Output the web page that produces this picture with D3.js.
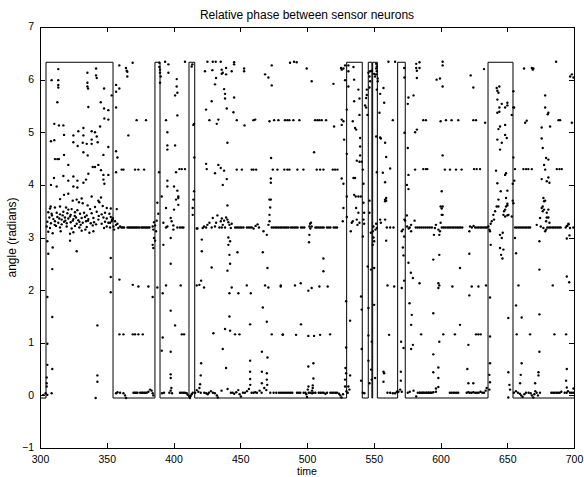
<!DOCTYPE html>
<html>
<head>
<meta charset="utf-8">
<script src="https://cdn.jsdelivr.net/npm/d3@7"></script>
<style>
  body { margin: 0; background: #fff; }
  text { font-family: "Liberation Sans", Arial, Helvetica, sans-serif; fill: #000; }
</style>
</head>
<body>
<svg id="chart" width="584" height="477"></svg>
<script>
// Axis ticks
const xTicks = [300, 350, 400, 450, 500, 550, 600, 650, 700];
const yTicks = [-1, 0, 1, 2, 3, 4, 5, 6, 7];

// Switching times of the synchrony window (alternates low / high)
const windowEdges = [304.5, 354.7, 386.1, 389.9, 411.6, 415.9, 529.7, 541.4,
                     545.9, 548.6, 549.2, 552.7, 567.9, 573.6, 635.6, 654.3];
const windowLow = -0.05;
const windowHigh = 6.33;

// Relative phase samples [time, angle]
const phase300 = [
  [313.7,6.20],[308.7,5.99],[313.7,5.99],[313.7,5.90],[313.7,5.85],[335.5,6.13],[342,6.21],[342,6.08],[342.5,6.03],
  [335.5,5.94],[335.5,5.87],[336,5.83],[348,5.83],[313,5.57],[336.2,5.48],[345.5,5.57],[348,5.45],[351.2,5.42],
  [348.2,5.26],[351.2,5.24],[310.7,5.16],[314.2,5.13],[317.5,5.13],[332.5,5.08],[328.7,5.02],[332.5,4.94],[325,4.94],
  [338.7,5.02],[341.2,5.00],[345,5.11],[342.5,4.92],[318,4.95],[308.2,4.83],[310.7,4.85],[325,4.81],[328.2,4.74],
  [332,4.80],[335,4.78],[338.7,4.78],[338.7,4.86],[343.2,4.81],[351.2,4.72],[332.5,4.62],[335.7,4.56],[318,4.57],
  [347.5,4.57],[311.2,4.49],[313,4.49],[314.2,4.49],[321.2,4.38],[339.5,4.34],[341.2,4.34],[343.7,4.38],[345.7,4.28],
  [310.5,4.13],[317.5,4.17],[325,4.16],[321.2,4.08],[328,4.08],[336.2,4.21],[334.5,4.10],[332.5,4.04],[308.2,4.00],
  [312.5,3.97],[325,3.97],[328,3.95],[347.5,4.10],[348.2,4.02],[351.2,4.19],[347.5,4.19],[318,3.81],[321.2,3.83],
  [315,3.73],[324.5,3.70],[327.5,3.72],[331.2,3.74],[329.2,3.67],[332,3.65],[338.7,3.78],[343.7,3.70],[345.7,3.76],
  [344.5,3.67],[335.7,3.61],[308,3.59],[311.2,3.57],[315,3.59],[321.2,3.53],[323.7,3.54],[347,3.60],[350,3.56],
  [307.5,3.55],[319.5,3.57],[328,3.52],[337.5,3.54],[341.2,3.58],[353,3.55],
  [306.2,3.48],[308.7,3.45],[312.5,3.47],[315,3.44],[317.5,3.49],[320.5,3.46],[323,3.43],[326.2,3.48],[330,3.45],
  [333,3.47],[335,3.42],[338.7,3.46],[342.5,3.49],[346.2,3.44],[348.7,3.47],[352,3.45],
  [307,3.38],[310,3.35],[313,3.39],[314.5,3.36],[316.2,3.34],[318.7,3.38],[321.2,3.36],[322.5,3.40],[325,3.35],
  [327,3.38],[328.7,3.33],[331.2,3.37],[333.7,3.39],[336.2,3.35],[340,3.37],[343.7,3.34],[347.5,3.38],[350,3.36],
  [353,3.39],[354.5,3.34],
  [305.5,3.30],[308.2,3.27],[311.2,3.31],[313.7,3.28],[316.2,3.25],[318,3.30],[320,3.27],[323,3.29],[324.5,3.32],
  [327.5,3.26],[329.5,3.30],[332,3.28],[334.5,3.31],[338,3.27],[340.5,3.29],[346.2,3.26],[348.7,3.30],[351.2,3.28],
  [353.7,3.31],
  [305,3.21],[307.5,3.18],[312,3.22],[315,3.19],[320,3.21],[323.7,3.17],[326.2,3.22],[329.5,3.19],[335,3.20],
  [339.5,3.23],[348,3.18],[350,3.21],[352.5,3.19],
  [306.2,3.11],[309.5,3.08],[315.5,3.12],[322.5,3.07],[325,3.10],[331.2,3.13],[337,3.09],[340,3.12],
  [317,3.42],[319,3.32],[326,3.41],[330.5,3.24],[336,3.32],[344,3.41],[309,3.42],[342,3.25],[334,3.15],[311,3.24],
  [305.5,2.93],[309.5,2.81],[327.5,2.74],[322.5,2.94],[306.2,2.69],[309.2,2.40],[305.5,1.87],[309.2,1.49],
  [305.5,0.98],[305.5,0.58],[309.2,0.50],[305,0.34],[305,0.23],[305,0.17],[304.2,0.04],[308.7,0.04],[305.5,0.01],
  [302.5,0.01],[343,1.33],[343,0.38],[343,0.26],[341.7,-0.05],[353,2.61],[353,2.25],[353,1.96],[353.7,5.70]
];

const phase356 = [
  [357.5,3.54],[352.5,3.28],[355,3.21],[356.2,3.31],[357,3.24],[358,3.26],[358.7,3.18],[360,3.21],[355.5,3.15],
  [354,3.34],[354.5,3.37],
  [361,3.19],[362,3.19],[363,3.19],[365.5,3.19],[366.5,3.19],[367.5,3.19],[368.5,3.19],[369.5,3.19],[370.5,3.19],
  [371.5,3.19],[372.5,3.19],[373.5,3.19],[374.5,3.19],[376,3.19],[377,3.19],[378,3.19],[379,3.19],[380,3.19],
  [381,3.19],[382,3.19],
  [359.4,6.27],[364.4,6.22],[364.9,6.17],[365.4,6.15],[365.4,6.06],[369.4,6.32],[357,5.90],[357,5.77],[359.4,5.83],
  [357,5.47],[372.4,5.23],[379.4,5.23],[366.2,4.94],[357,4.64],[358,4.52],[361.2,4.29],[362.5,4.29],[371.2,4.29],
  [373.7,4.29],[378,4.29],[357,4.24],
  [359.5,2.20],[369.5,2.10],[373.7,2.07],[381.2,2.07],[359.5,1.16],[362.5,1.16],[369.5,1.16],[371.2,1.16],
  [373.7,1.16],[377,1.16],
  [360,0.05],[362.5,0.04],[363.7,0.0],[364.5,-0.05],[370,0.05],[371,0.05],[372,0.05],[373,0.05],[375,0.05],
  [376,0.05],[377,0.05],[378,0.05],[379,0.05],[380,0.05],[381.2,0.07],[382.5,0.11],[357,0.04],[358,0.06],
  [387.9,3.66],[388.6,3.45],[387.4,3.32],[385.4,3.29],[384.4,3.21],[386.2,3.23],[384.9,3.15],[386.9,3.12],
  [385.4,2.99],[386.2,2.94],[384.4,2.86],[384.9,2.80],[387.9,2.05],[384.4,1.87],[383.6,0.09],[384.4,0.04],[384.9,0.0],
  [389.4,6.32],[389.4,6.24],[389.9,6.19],[389.9,6.13],[390.4,6.06],[389.9,5.94],[393.7,6.34],[396.2,6.29],
  [396.2,6.13],[402.4,6.01],[402.4,5.87],[402.9,5.75],[401.2,5.70],[402.9,5.32],[394.4,5.23],[395.4,5.00],
  [395.4,4.75],[395.4,4.67],[401.2,4.75],[404.4,4.30],[406.2,4.30],[408.6,4.30],[401.9,4.24],[389.2,4.24],
  [395.4,4.08],[395.4,3.97],[400.4,3.97],[402.9,3.89],[403.6,3.78],[403.6,3.75],[391.2,3.78],[408.6,6.34],
  [394.4,3.56],[400.4,3.53],[403.6,3.62],[401.9,3.72],[397.9,3.37],[397.9,2.99],[392.4,3.28],[394.4,3.19],
  [395.4,3.21],[398.6,3.31],[399.9,3.23],[399.9,3.15],[402.9,3.19],[404.9,3.19],[406.4,3.19],[407.4,3.19],
  [392.4,2.86],[397.9,2.50],[394.4,2.09],[405.4,2.09],[391.9,1.94],[397.9,1.61],[401.2,1.33],[391.9,1.10],
  [406.2,1.16],[407.9,1.16],[391.2,0.85],[397.9,0.83],[397.9,0.40],[397.9,0.33],
  [391.4,0.04],[392.9,0.05],[396.9,0.05],[397.9,0.09],[398.4,0.14],[398.9,0.04],[404.9,0.05],[406.2,0.05],
  [407.4,0.05],[408.6,0.05],[409.9,0.04],[410.6,0.01],[411.9,-0.02],[412.4,-0.05],[412.9,-0.01],[413.6,0.02],
  [414.4,0.05],
  [413.6,6.25],[414.1,6.29],[415.4,5.16],[414.9,5.14],[415.6,4.52],[415.4,3.88],[414.9,3.72],[414.4,3.56],[414.4,3.43]
];

const phase416 = [
  [425.4,6.34],[429.4,6.34],[431.6,6.34],[435.4,6.34],[423.6,6.16],[429.1,6.18],[436.1,6.19],[436.9,6.13],
  [436.1,6.11],[439.4,6.10],[439.4,6.22],[443.6,6.16],[445.4,6.33],[445.4,6.29],[452.9,6.21],[452.9,6.16],
  [431.9,6.03],[431.1,5.91],[437.9,5.82],[438.6,5.73],[438.6,5.64],[445.4,5.66],[428.6,5.59],[424.4,5.43],
  [439.9,5.45],[444.9,5.38],[426.9,5.23],[433.6,5.24],[432.4,5.16],[447.4,5.23],[453.2,5.13],[459.9,5.23],
  [461.2,5.24],[471.9,5.21],[475.4,5.23],[478.6,5.23],[468.6,6.10],[471.1,6.04],[473.6,6.27],[473.6,5.89],
  [440.4,4.80],[424.4,4.40],[424.9,4.30],[433.6,4.38],[435.4,4.32],[431.1,4.22],[437.9,4.27],[447.4,4.29],
  [451.2,4.29],[458.6,4.29],[459.9,4.29],[461.9,4.29],[474.4,4.29],[477.9,4.29],[439.9,4.11],[436.9,4.00],
  [473.1,4.51],[472.9,4.12],[472.9,4.04],[472.9,3.72],
  [487.3,6.32],[490.3,6.34],[492.3,6.33],[499.8,6.21],[503.5,5.97],[519.8,5.92],[525.5,6.22],[526,6.19],
  [527.3,6.21],[528.5,6.27],[528.5,5.99],[527.3,5.21],[526,5.14],[527.8,4.86],[520.3,5.11],[526,5.24],
  [529.8,4.59],[526,4.12],[527.3,4.02],[529.8,3.78],[529.8,5.43],
  [483.5,5.23],[485.3,5.23],[486.8,5.23],[489.8,5.23],[494.3,5.23],[506,5.23],[507.8,5.23],[509.3,5.23],
  [511,5.23],[514.3,5.23],[505.3,4.62],
  [483,4.29],[485.3,4.29],[486.8,4.29],[492.8,4.29],[497.3,4.29],[507.3,4.29],[509.8,4.29],[512.3,4.29],
  [519.3,4.29],[521,4.29],[522.8,4.29],
  [417.4,3.17],[421.2,2.96],[421.2,2.74],[419.4,2.10],[417.4,2.09],[422.9,2.05],[420.7,2.18],[428.6,2.43],
  [440.4,3.61],[441.1,3.00],[442.4,2.93],[441.1,2.86],[441.9,2.67],[442.4,2.50],[440.4,2.37],[447.9,2.72],
  [443.6,2.05],[441.9,1.94],[448.6,1.94],[454.9,2.09],[457.9,1.94],[441.9,1.50],[429.9,1.18],[438.6,1.26],
  [442.4,1.23],[446.1,1.16],[449.4,1.16],[436.9,0.88],[439.4,0.52],[420.7,0.61],[420.4,0.38],[419.9,0.21],
  [457.4,1.35],[457.4,0.66],[457.4,0.45],[457.4,0.31],[466.9,2.72],[466.9,1.67],[466.2,0.83],[466.2,0.45],
  [466.2,0.23],[469.9,3.05],[470.4,2.42],[468.6,2.09],[471.1,2.05],[469.9,1.40],[470.4,0.72],[469.9,0.42],
  [469.9,0.30],[467.4,3.12],[471.9,3.72],[472.4,3.57],[471.9,3.43],[471.9,3.31],[471.1,3.24],[473.6,1.16],
  [481.9,1.16],[480.4,2.09],
  [417.9,3.17],[421.9,3.18],[422.9,3.21],[424.4,3.19],[425.4,3.24],[426.9,3.28],[428.6,3.19],[429.4,3.37],
  [431.1,3.21],[431.9,3.28],[432.9,3.42],[434.4,3.19],[435.4,3.31],[436.2,3.36],[436.9,3.24],[437.9,3.32],
  [439.4,3.38],[440.4,3.34],[441.1,3.29],[441.9,3.24],[442.9,3.18],[443.6,3.26],[436.2,3.19],[438.6,3.19],
  [446.2,3.19],[447.4,3.19],[448.6,3.19],[449.9,3.19],[451.1,3.19],[452.4,3.19],[455,3.19],[456.2,3.19],
  [457.4,3.19],[458.6,3.19],[460,3.17],[461.5,3.22],[463,3.25],[464,3.19],
  [473.6,3.19],[474.9,3.19],[476.2,3.19],[477.4,3.19],[478.6,3.19],[479.9,3.19],[481.1,3.19],[482.4,3.19],
  [483.6,3.19],[484.9,3.19],[486.2,3.19],
  [488,3.19],[489.3,3.19],[490.5,3.19],[491.8,3.19],[493,3.19],[495.5,3.19],[496.8,3.19],[498,3.19],
  [501.8,3.05],[501.5,2.91],[502.3,3.26],[503,3.28],[503.5,3.21],[501.8,3.21],[502.5,3.17],
  [506.3,3.19],[507.5,3.19],[508.8,3.19],[510,3.19],[511.3,3.19],[512.5,3.19],[515,3.19],[516.3,3.19],
  [517.5,3.19],[520,3.19],[521.3,3.19],[522.5,3.19],[527.3,3.56],[526.8,3.31],[529.8,3.39],
  [512.3,2.60],[512.3,2.36],[480.3,2.07],[491,2.09],[495.3,2.13],[501,1.99],[503.5,2.04],[509.3,2.07],
  [515.5,2.07],[495.5,1.35],[481.8,1.15],[491.8,1.15],[501,1.13],[505.3,1.13],[509.8,1.15],[517.3,1.16],
  [504.8,0.61],[501,0.55],[504.8,0.32],[501.1,0.17],[500.6,0.11],[504.3,0.19],[504.3,0.14],[503.8,0.09],
  [529.3,1.79],[529.3,0.91],[528.8,0.52],[529.3,0.42],[528.5,0.30],[528.5,0.17],
  [416.2,0.05],[417.4,0.10],[418.6,0.07],[419.4,0.14],[420.4,0.05],[423,0.05],[424.5,0.04],[425.6,0.02],
  [426.5,0.05],[428,0.08],[429.5,0.05],[431,0.04],[432.5,0.0],[433.2,-0.04],[436,0.09],[440.5,0.12],
  [443,0.05],[444.3,0.05],[445.5,0.03],[447,0.06],[448.5,0.10],[449.5,0.02],[450.5,-0.02],[452,0.05],
  [453.5,0.05],[455,0.08],[456.5,0.12],[457.5,0.20],[458.5,0.05],[460,0.05],[461.2,0.06],[462.5,0.05],
  [464.5,0.09],[466,0.05],[468,0.14],[469.5,0.10],[470.2,0.20],[472.5,0.05],[475,0.05],[477,0.05],
  [479,0.05],[480.5,0.05],[482,0.05],[483.5,0.05],[485,0.05],
  [486.5,0.05],[487.8,0.05],[489,0.05],[492.5,0.05],[493.8,0.05],[495,0.05],[497.5,0.05],[498.8,0.05],
  [499.5,0.02],[500,-0.03],[501.3,0.05],[502.5,0.05],[503.8,0.04],[505,0.05],[506.3,0.05],[508.8,0.05],
  [510,0.05],[511.3,0.05],[512.5,0.05],[513.8,0.03],[515,0.05],[517.5,0.05],[518.8,0.05],[520,0.05],
  [521.3,0.05],[522.5,0.05],[524,0.03],[525,0.0],[525.8,-0.04],[527,0.02]
];

const phase530 = [
  [531,6.27],[531,6.16],[534.8,6.24],[535.3,6.00],[538.5,5.81],[535.3,5.59],[539.3,5.64],[531,5.87],[539.3,5.33],
  [534.3,5.21],[536,5.08],[536.8,5.05],[539.8,4.89],[539.8,4.73],[539.8,4.56],[537.3,4.46],[539.3,4.44],[541,4.44],
  [534.8,4.13],[536,4.13],[535.3,3.81],[536.5,3.78],[538.5,3.78],[540.3,3.78],[541.8,4.29],[542.3,4.02],
  [544.8,5.81],[546,6.13],[546.8,6.06],[547.3,6.16],[548.5,6.17],[550.3,6.11],[551,6.06],[551.8,6.30],
  [552.3,6.25],[551.8,6.21],[552.3,6.16],[551.8,6.10],[553,6.02],[553,5.97],[552.3,5.81],[554.8,5.73],
  [544.8,5.71],[544.3,5.65],[543.5,5.51],[544.3,5.47],[545.3,5.33],[546.8,5.85],[547.3,5.97],[557.3,5.84],
  [557.8,5.56],[554.3,5.37],[561,6.34],[566,6.34],[551.8,4.92],[554.8,4.90],[555.3,4.88],[558.5,4.80],
  [559.3,4.53],[552.3,4.24],[556.8,4.23],[562.3,4.31],[558.5,4.05],[558.5,3.72],[559.3,3.70],[564.3,5.23],
  [572.8,6.22],[573,6.04],[573,4.99],
  [533.5,3.28],[532.8,3.12],[534.3,3.31],[536.8,3.56],[538.5,3.47],[537.3,3.34],[537.8,3.24],[539.3,3.28],
  [542.3,3.66],[542.8,3.47],[542.3,3.34],[542.8,3.26],[541.8,3.02],[546.8,3.70],[546.8,3.47],[549.8,3.21],
  [549.3,3.12],[549.8,3.00],[550.3,2.93],[549.3,2.86],[547.8,3.09],[551.8,3.26],[552.3,3.18],[551.3,3.15],
  [554.8,3.34],[555.3,3.28],[558.5,3.69],[559.3,3.75],[558.5,3.34],[559.3,2.94],[559.8,3.19],[562.3,3.19],
  [564.8,3.19],
  [532.3,1.42],[531,0.17],[531.8,0.11],[532.3,0.38],[540.5,1.88],[541,1.63],[541,0.88],[540.5,0.28],
  [545.5,2.45],[546,1.66],[546,1.14],[546,0.66],[546.8,0.23],[548,2.39],[548.5,1.02],[548,0.49],[548.5,0.30],
  [550.3,2.42],[550.3,1.72],[551,0.33],[557.3,0.45],[557.8,0.42],[557.3,0.26],[560.3,2.09],[565.3,2.07],
  [561.5,1.15],
  [560.3,0.05],[562.3,0.05],[564.3,0.04],[566,0.04],[567.3,0.07],[568.5,0.07],[541.8,0.05],[543,0.04],
  [530.5,0.05],[529.5,0.08],
  [570.3,0.45],[570.3,0.28],[569.8,0.11],[571,0.07],[570.5,1.02],[572.3,0.90],[571,2.04],[572.8,2.18],
  [572.3,2.66],[571.8,2.81],[571,3.12],[571.8,3.15],[572.8,3.02],[573,3.34],[574.8,3.42],[573.5,3.32]
];

const phase575 = [
  [576,2.52],[577.8,2.33],[579.3,2.23],[584.3,2.13],[576.8,1.75],[578.5,1.53],[578,1.34],[579.3,0.96],
  [578,0.88],[585.5,1.16],[579.8,0.09],[581.8,-0.02],
  [575,3.21],[576.2,3.17],[578,3.24],[580.6,3.32],[578,3.12],[577,3.19],[581.5,3.19],[583,3.19],[584.5,3.19],
  [586,3.19],[587.5,3.19],[589,3.19],[590.5,3.19],[592,3.19],[593.5,3.19],
  [575.5,0.05],[577,0.07],[583,0.05],[584.5,0.05],[586,0.05],[587.3,0.05],[589.5,0.05],[591,0.05],
  [592.3,0.05],[593.5,0.05],
  [576,5.66],[575.5,5.54],[579.8,5.70],[581.8,6.22],[582.3,6.17],[584.3,6.22],[584.3,6.33],[581.8,6.30],
  [582.3,6.03],[581,5.00],[582.3,5.05],[575.5,4.70],[581,4.29],[576,4.19],[574.8,4.00],[576,3.92],
  [601.6,6.34],[601.6,6.27],[597.1,6.00],[599.6,6.02],[601.6,5.87],[622.6,6.08],[624.6,5.85],[632.6,6.20],
  [587.1,5.23],[589.1,5.23],[600.1,5.21],[604.1,5.23],[608.3,5.23],[613.3,5.23],[624.6,5.23],[626.6,5.23],
  [633.4,5.18],
  [587.1,4.30],[589.1,4.30],[590.1,4.30],[603.3,4.29],[607.1,4.29],[611.6,4.29],[615.8,4.29],[625.1,4.30],
  [627.1,4.30],[629.6,4.30],
  [601.6,4.56],[600.9,3.88],[600.1,3.59],[600.9,3.55],[601.6,3.43],
  [601,3.19],[602.3,3.19],[603.5,3.19],[605,3.19],[606.3,3.19],[607.5,3.19],[608.8,3.19],[610,3.19],
  [611.3,3.19],[612.5,3.19],[613.8,3.19],[615,3.19],[616.3,3.19],[623.5,3.19],[624.8,3.22],[626,3.19],
  [627.3,3.19],[628.5,3.19],[629.8,3.19],[631,3.19],[632.3,3.19],[633.5,3.19],[634.6,3.19],
  [595.8,3.18],[596.6,3.24],[598.4,3.15],[599.1,3.05],[599.6,3.12],[600.1,3.28],[600.9,3.43],[601.6,3.59],
  [595.1,3.05],[622.1,3.21],[621.6,3.12],
  [594.6,1.56],[594.6,0.78],[594.6,0.44],[598.4,0.53],[598.4,0.33],[594.6,2.58],[599.1,2.67],[598.4,2.13],
  [599.1,2.09],[598.4,2.04],[602.1,1.16],[610.8,1.16],[599.1,1.02],[614.6,2.42],[614.6,1.34],[608.9,2.07],
  [623.4,2.07],[628.4,2.07],[634.1,2.09],[621.6,1.90],[621.6,2.69],[620.9,0.96],[620.1,0.50],[620.9,0.23],
  [624.6,0.23],[626.6,1.16],[628.3,1.16],[630.1,1.16],
  [584.6,0.05],[586.6,0.05],[588,0.05],[589.4,0.05],[590.8,0.05],[592.3,0.05],[594.6,0.06],[596.6,0.13],
  [598.4,0.16],[596.6,0.07],[607,0.05],[608.3,0.05],[609.6,0.05],[610.8,0.05],[612.1,0.05],[613.3,0.05],
  [619.6,0.05],[620.8,0.06],[622,0.05],[623.3,0.05],[624.6,0.06],[626,0.05],[627.3,0.05],[628.6,0.05],
  [630,0.07],[631.3,0.05],[632.6,0.05],[633.8,0.09],[634.6,0.14]
];

const phase636 = [
  [642.1,5.84],[642.6,5.79],[644.1,5.87],[643.4,5.75],[642.6,5.62],[645.9,5.54],[644.1,5.47],[648.4,5.47],
  [650.1,5.56],[650.1,5.51],[653.4,5.33],[654.6,5.47],[642.6,5.37],[644.1,5.39],[644.6,5.11],[648.4,5.14],
  [643.4,5.06],[642.6,4.86],[645.9,4.80],[648.4,4.95],[649.6,4.89],[644.6,4.67],[641.6,4.27],[648.4,4.19],
  [649.1,4.22],[642.6,4.03],[654.1,4.02],[655.3,4.08],[650.1,3.89],[645.1,3.88],[643.4,3.72],[649.1,3.75],
  [654.1,3.70],[643.4,3.59],[648.4,3.53],[650.1,3.61],[654.6,3.65],[647.1,3.43],[650.1,3.42],[654.6,5.78],
  [654.6,4.52],[655.1,5.47],
  [635.9,3.21],[636.6,3.15],[637.6,3.26],[638.4,3.31],[639.6,3.43],[640.9,3.50],[642.1,3.59],[637.1,3.12],
  [640.1,3.34],[644.6,3.05],[645.9,2.99],[646.6,3.09],[644.6,2.80],[645.4,2.67],[646.4,2.60],[647.1,2.77],
  [647.6,3.50],[649.1,3.59],[650.1,3.64],[648.4,3.40],[650.9,3.43],[653.4,3.40],
  [637.6,2.86],[637.1,1.86],[637.1,1.12],[637.1,0.61],[636.6,0.39],[637.1,0.25],[636.6,0.11],[650.8,1.47],
  [650.8,0.44],[651.6,0.20],[652.1,0.11],[650.8,-0.04],
  [655.8,2.99],[656.6,2.70],[656.6,1.71],[658.4,2.09],[660.8,1.48],[657.1,1.16],[667.1,1.16],[660.8,0.61],
  [660.1,0.39],[659.6,0.23],[674.1,2.93],[674.1,2.39],[674.1,1.54],[674.1,0.83],[673.4,0.44],[673.4,0.38],
  [670.9,0.23],
  [672.1,3.24],[675.1,3.21],[677.1,3.18],[679.1,3.15],[678.4,3.12],[675.8,3.56],[677.6,3.69],[676.6,3.50],
  [679.6,3.47],[680.8,3.53],[674.6,3.37],[679.1,3.31],[681.6,3.28],
  [655.9,3.19],[657.1,3.19],[658.4,3.19],[659.6,3.19],[660.9,3.19],[662.1,3.19],[663.4,3.19],[664.6,3.19],
  [665.9,3.19],[667.1,3.19],[680,3.19],[681.3,3.19],[682.5,3.19],[683.8,3.19],[685,3.19],[686.3,3.19],
  [687.5,3.19],[688.8,3.19],[690,3.19],[693.8,3.19],[695,3.22],[696,3.25],[697,3.18],[699.5,3.19],
  [694.6,3.22],[695.8,3.26],
  [684.1,2.09],[694.6,2.26],[696.4,2.15],[685.3,1.16],[694.1,1.16],[694.6,2.98],[696.6,3.04],[694.6,0.50],
  [694.1,0.28],[694.6,0.15],[699.6,0.13],
  [662.6,6.21],[668.4,6.22],[669.1,6.19],[669.6,6.21],[686.6,6.34],[697.1,6.06],[698.4,6.10],[699.6,6.04],
  [678.4,5.70],[678.4,5.47],[680.8,5.37],[680.3,5.34],[664.6,5.22],[663.4,5.18],[675.8,5.09],[682.1,5.11],
  [675.8,4.88],[676.6,4.70],[679.1,4.51],[680.8,4.48],[677.6,4.38],[678.4,4.29],[680.8,4.14],[679.6,4.07],
  [681.6,4.04],[675.8,4.11],[677.1,3.75],[678.4,3.70],[676.6,3.59],[677.6,3.53],[679.6,3.38],[680.8,3.38],
  [698.4,5.18],[688.4,5.23],[689.6,5.23],[655.8,4.30],[662.1,4.30],[664.1,4.30],[665.8,4.30],[668.4,4.30],
  [687.1,4.30],[689.1,4.30],[690.8,4.30],
  [655,0.05],[656.5,0.08],[658,0.05],[659.5,0.03],[660.5,0.0],[661.5,-0.03],[662.8,0.02],[664,0.05],
  [666,0.05],[667.5,0.04],[668.5,0.0],[669.5,-0.04],[670.3,0.02],[671,0.08],[672,0.05],[673,0.0],[674.5,0.05],
  [683,0.05],[684.3,0.05],[685.5,0.05],[686.8,0.05],[688,0.05],[689.3,0.05],[690.5,0.07],[693,0.05],
  [694.5,0.05],[695.5,0.08],[697,0.05],[698.3,0.05],[699.5,0.05]
];

const samples = [].concat(phase300, phase356, phase416, phase530, phase575, phase636);

// Layout
const width = 584, height = 477;
const margin = { top: 27, right: 10, bottom: 29, left: 40 };
const innerW = width - margin.left - margin.right;
const innerH = height - margin.top - margin.bottom;

const svg = d3.select("#chart");
const x = d3.scaleLinear().domain([300, 700]).range([margin.left, margin.left + innerW]);
const y = d3.scaleLinear().domain([-1, 7]).range([margin.top + innerH, margin.top]);

// Title and axis labels
svg.append("text")
  .attr("x", margin.left + innerW / 2).attr("y", 19)
  .attr("text-anchor", "middle").attr("font-size", 12)
  .text("Relative phase between sensor neurons");
svg.append("text")
  .attr("x", margin.left + innerW / 2).attr("y", 474.7)
  .attr("text-anchor", "middle").attr("font-size", 10.5)
  .text("time");
svg.append("text")
  .attr("transform", `translate(16,${margin.top + innerH / 2}) rotate(-90)`)
  .attr("text-anchor", "middle").attr("font-size", 12)
  .text("angle (radians)");

// Synchrony window drawn as a step trace
const windowPts = [[300, windowLow]];
let level = windowLow;
windowEdges.forEach(t => {
  windowPts.push([t, level]);
  level = level === windowLow ? windowHigh : windowLow;
  windowPts.push([t, level]);
});
windowPts.push([700, level]);

svg.append("defs").append("clipPath").attr("id", "plotClip")
  .append("rect").attr("x", margin.left).attr("y", margin.top)
  .attr("width", innerW).attr("height", innerH);

const plot = svg.append("g").attr("clip-path", "url(#plotClip)");

plot.append("path")
  .datum(windowPts)
  .attr("d", d3.line().x(d => x(d[0])).y(d => y(d[1])))
  .attr("fill", "none").attr("stroke", "#000").attr("stroke-width", 1);

plot.append("g").selectAll("circle")
  .data(samples)
  .join("circle")
  .attr("cx", d => x(d[0]))
  .attr("cy", d => y(d[1]))
  .attr("r", 1.2)
  .attr("fill", "#000");

// Axes with inward ticks on all four sides
function styleAxis(g, labels) {
  g.select(".domain").remove();
  g.selectAll(".tick line").attr("stroke", "#000").attr("shape-rendering", "crispEdges");
  g.selectAll(".tick text").attr("font-size", 10.5).attr("fill", "#000")
    .attr("font-family", '"Liberation Sans", Arial, Helvetica, sans-serif');
  if (!labels) g.selectAll(".tick text").remove();
}

svg.append("g").attr("transform", `translate(0,${margin.top + innerH})`)
  .call(d3.axisBottom(x).tickValues(xTicks).tickSize(-5).tickPadding(7.5).tickFormat(d3.format("d")))
  .call(g => styleAxis(g, true));
svg.append("g").attr("transform", `translate(0,${margin.top})`)
  .call(d3.axisTop(x).tickValues(xTicks).tickSize(-5))
  .call(g => styleAxis(g, false));
svg.append("g").attr("transform", `translate(${margin.left},0)`)
  .call(d3.axisLeft(y).tickValues(yTicks).tickSize(-5).tickPadding(6).tickFormat(d3.format("d")))
  .call(g => styleAxis(g, true))
  .call(g => g.selectAll(".tick text").attr("dy", "0.28em"));
svg.append("g").attr("transform", `translate(${margin.left + innerW},0)`)
  .call(d3.axisRight(y).tickValues(yTicks).tickSize(-5))
  .call(g => styleAxis(g, false));

// Plot frame
svg.append("rect")
  .attr("x", margin.left).attr("y", margin.top)
  .attr("width", innerW).attr("height", innerH)
  .attr("fill", "none").attr("stroke", "#000").attr("stroke-width", 1)
  .attr("shape-rendering", "crispEdges");
</script>
</body>
</html>
